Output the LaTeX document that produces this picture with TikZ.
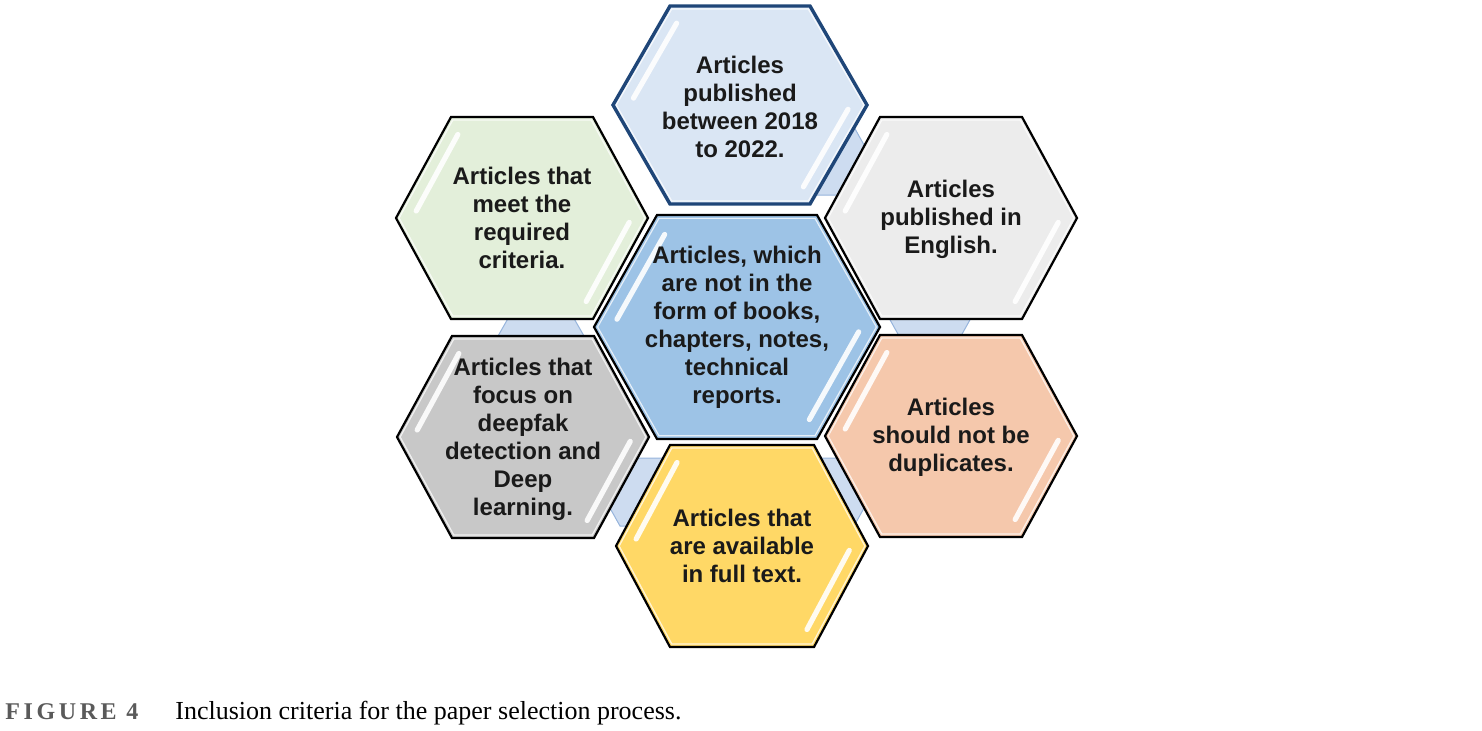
\documentclass[tikz,border=0pt]{standalone}
\usepackage{fontspec}
\setmainfont{Liberation Sans}
\newfontfamily\captionserif{Liberation Serif}
\newfontfamily\figlabelfont[LetterSpace=15]{Liberation Serif}
\definecolor{topfill}{RGB}{218,230,244}
\definecolor{topline}{RGB}{31,70,120}
\definecolor{greenfill}{RGB}{227,239,218}
\definecolor{whitefill}{RGB}{236,236,236}
\definecolor{centerfill}{RGB}{157,195,230}
\definecolor{grayfill}{RGB}{200,200,200}
\definecolor{orangefill}{RGB}{245,200,172}
\definecolor{yellowfill}{RGB}{255,216,102}
\definecolor{smallfill}{RGB}{205,220,240}
\definecolor{smallline}{RGB}{150,180,220}
\definecolor{textdark}{RGB}{26,26,26}
\definecolor{figgray}{RGB}{90,90,90}
\tikzset{
  hexbox/.style={draw=black, line width=1.1pt, line join=miter},
  tophexbox/.style={draw=topline, line width=1.7pt, line join=miter},
  smallhex/.style={fill=smallfill, draw=smallline, line width=0.5pt},
  bevel/.style={draw=white, line width=0.6pt, opacity=0.75},
  glossline/.style={draw=white, line width=2.6pt, line cap=round, opacity=0.9},
  hextext/.style={font=\bfseries\fontsize{12}{14}\selectfont, align=center, text=textdark, inner sep=0pt},
  captext/.style={anchor=base west, inner sep=0pt}
}
% #1 style, #2 cx, #3 cy, #4 half width, #5 half height, #6 half top edge
\newcommand\drawhex[6]{%
  \path[#1] (#2-#4,#3) -- (#2-#6,#3-#5) -- (#2+#6,#3-#5) -- (#2+#4,#3)
    -- (#2+#6,#3+#5) -- (#2-#6,#3+#5) -- cycle;}
% gloss stripes: #1 cx, #2 cy, #3 hw, #4 hh, #5 te
\newcommand\glosshex[5]{%
  \draw[glossline] ({#1-0.87*#3+0.08*0.87*(#3-#5)},{#2-0.08*0.87*#4})
    -- ({#1-0.87*#3+0.95*0.87*(#3-#5)},{#2-0.95*0.87*#4});
  \draw[glossline] ({#1+0.87*#3-0.05*0.87*(#3-#5)},{#2+0.05*0.87*#4})
    -- ({#1+0.87*#3-0.95*0.87*(#3-#5)},{#2+0.95*0.87*#4});
  \drawhex{bevel}{#1}{#2}{0.975*#3}{0.97*#4}{0.975*#5}}
\begin{document}
\begin{tikzpicture}[x=0.5pt,y=-0.5pt]
\useasboundingbox (0,0) rectangle (1482,730);
% small connector hexagons behind
\drawhex{smallhex}{832}{161}{41}{34}{22}
\drawhex{smallhex}{930}{318}{41}{34}{22}
\drawhex{smallhex}{832}{492}{41}{34}{22}
\drawhex{smallhex}{642}{492}{41}{34}{22}
\drawhex{smallhex}{541}{336}{43}{35}{23}
% outer hexagons
\drawhex{tophexbox,fill=topfill}{740}{105}{127}{99}{70}
\glosshex{740}{105}{127}{99}{70}
\drawhex{hexbox,fill=whitefill}{951}{218}{126}{101}{71}
\glosshex{951}{218}{126}{101}{71}
\drawhex{hexbox,fill=orangefill}{951}{436}{126}{101}{71}
\glosshex{951}{436}{126}{101}{71}
\drawhex{hexbox,fill=yellowfill}{742}{546}{126}{101}{72}
\glosshex{742}{546}{126}{101}{72}
\drawhex{hexbox,fill=grayfill}{523}{437}{126}{101}{71}
\glosshex{523}{437}{126}{101}{71}
\drawhex{hexbox,fill=greenfill}{522}{218}{126}{101}{71}
\glosshex{522}{218}{126}{101}{71}
% center hexagon
\drawhex{hexbox,fill=centerfill}{737}{327}{143}{112}{80}
\glosshex{737}{327}{143}{112}{80}
% texts
\node[hextext] (ttop) at (740,107) {Articles\\published\\between 2018\\to 2022.};
\node[hextext] (tenglish) at (951,219) {Articles\\published in\\English.};
\node[hextext] (torange) at (951,437) {Articles\\should not be\\duplicates.};
\node[hextext] (tyellow) at (742,546) {Articles that\\are available\\in full text.};
\node[hextext] (tgray) at (523,439) {Articles that\\focus on\\deepfak\\detection and\\Deep\\learning.};
\node[hextext] (tgreen) at (522,218) {Articles that\\meet the\\required\\criteria.};
\node[hextext] (tcenter) at (737,327) {Articles, which\\are not in the\\form of books,\\chapters, notes,\\technical\\reports.};
% caption
\node[captext, text=figgray, font=\figlabelfont\bfseries\fontsize{12}{14}\selectfont] (figlabel) at (5,719) {FIGURE 4};
\node[captext, text=black, font=\captionserif\fontsize{13}{15}\selectfont] (figcaption) at (175,719) {Inclusion criteria for the paper selection process.};
\end{tikzpicture}
\end{document}
